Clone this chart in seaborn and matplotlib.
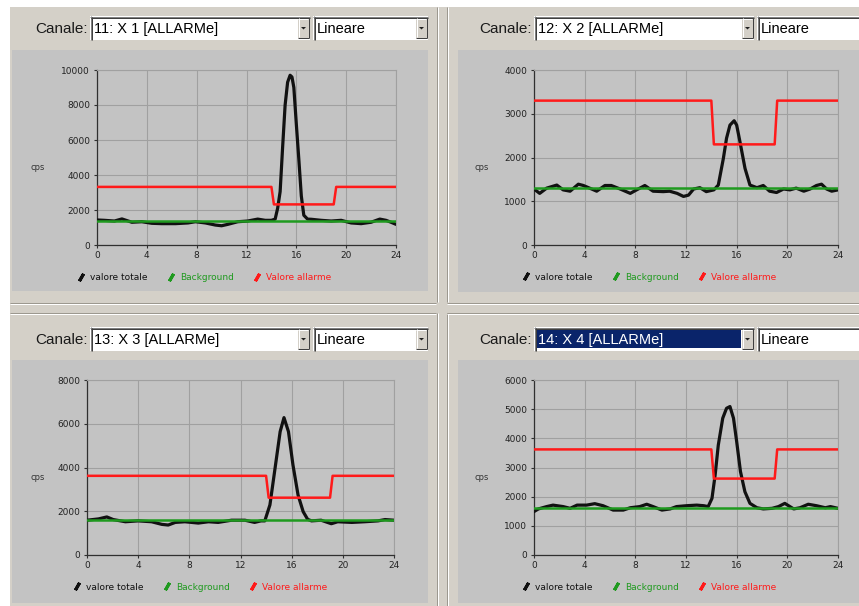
import matplotlib
matplotlib.use("Agg")
import matplotlib.pyplot as plt
from matplotlib.lines import Line2D
from matplotlib.patches import Rectangle, Polygon
import seaborn as sns

sns.set_theme(style="white")
plt.rcParams["font.family"] = ["DejaVu Sans"]

W, H = 859, 606

# ---- shared labels ----
hour_ticks = [0, 4, 8, 12, 16, 20, 24]
series_labels = ["valore totale", "Background", "Valore allarme"]
scale_mode = "Lineare"
channel_prompt = "Canale:"
unit_label = "cps"

# alarm threshold change points (hours)
alarm_hours = [0, 14.0, 14.2, 19.0, 19.2, 24]

# ---- channel 11 ----
ch11_name = "11: X 1 [ALLARMe]"
ch11_hours = [0, 0.6, 1.4, 2.0, 2.8, 3.6, 4.4, 5.2, 6.3, 7.3,
              7.9, 8.7, 9.5, 10.0, 10.5, 11.3, 12.1, 12.9, 13.5, 14.0,
              14.3, 14.5, 14.7, 14.9, 15.1, 15.3, 15.5, 15.65, 15.8, 16.0,
              16.2, 16.4, 16.6, 16.9, 17.2, 18.0, 18.8, 19.6, 20.4, 21.2,
              22.0, 22.7, 23.2, 23.6, 24.0]
ch11_total = [1430, 1410, 1370, 1490, 1300, 1330, 1240, 1220, 1220, 1260,
              1330, 1260, 1140, 1100, 1180, 1330, 1370, 1480, 1410, 1410,
              1480, 2100, 3050, 5600, 8000, 9300, 9700, 9600, 9000, 6900,
              4900, 2800, 1700, 1480, 1470, 1410, 1370, 1410, 1260, 1220,
              1300, 1480, 1410, 1300, 1180]
ch11_background = [1350, 1350]
ch11_alarm = [3320, 3320, 2320, 2320, 3320, 3320]
ch11_ymax, ch11_ystep = 10000, 2000

# ---- channel 12 ----
ch12_name = "12: X 2 [ALLARMe]"
ch12_hours = [0, 0.45, 1.0, 1.8, 2.3, 2.85, 3.5, 3.9, 4.55, 4.95,
              5.6, 6.1, 6.8, 7.6, 8.1, 8.75, 9.4, 10.2, 10.7, 11.3,
              11.8, 12.2, 12.6, 13.1, 13.6, 14.2, 14.55, 14.95, 15.2, 15.47,
              15.8, 16.0, 16.26, 16.66, 17.05, 17.6, 18.1, 18.6, 19.15, 19.7,
              20.2, 20.7, 21.3, 21.8, 22.3, 22.7, 23.1, 23.5, 24.0]
ch12_total = [1280, 1180, 1300, 1370, 1260, 1230, 1390, 1360, 1280, 1230,
              1360, 1360, 1280, 1180, 1260, 1360, 1230, 1220, 1230, 1180,
              1110, 1140, 1280, 1310, 1220, 1260, 1370, 1980, 2440, 2740,
              2840, 2740, 2360, 1750, 1370, 1310, 1360, 1230, 1200, 1280,
              1260, 1300, 1230, 1280, 1360, 1390, 1280, 1230, 1260]
ch12_background = [1300, 1300]
ch12_alarm = [3300, 3300, 2300, 2300, 3300, 3300]
ch12_ymax, ch12_ystep = 4000, 1000

# ---- channel 13 ----
ch13_name = "13: X 3 [ALLARMe]"
ch13_hours = [0, 0.9, 1.55, 2.05, 3.0, 4.0, 5.05, 5.85, 6.35, 6.9,
              7.65, 8.7, 9.5, 10.25, 11.3, 12.35, 13.1, 13.6, 13.9, 14.3,
              14.7, 15.1, 15.4, 15.75, 16.1, 16.5, 16.9, 17.25, 17.55, 18.3,
              19.1, 19.6, 20.7, 21.7, 22.75, 23.3, 24.0]
ch13_total = [1590, 1650, 1740, 1620, 1520, 1560, 1520, 1400, 1370, 1490,
              1520, 1460, 1520, 1490, 1590, 1590, 1490, 1560, 1560, 2290,
              3960, 5640, 6280, 5640, 4120, 2740, 1980, 1630, 1560, 1590,
              1430, 1520, 1490, 1520, 1560, 1620, 1590]
ch13_background = [1620, 1620]
ch13_alarm = [3620, 3620, 2620, 2620, 3620, 3620]
ch13_ymax, ch13_ystep = 8000, 2000

# ---- channel 14 ----
ch14_name = "14: X 4 [ALLARMe]"
ch14_hours = [0, 0.35, 1.0, 1.5, 2.3, 2.85, 3.4, 4.15, 4.8, 5.45,
              6.25, 7.05, 7.6, 8.35, 8.9, 9.4, 10.1, 10.75, 11.25, 12.05,
              12.85, 13.4, 13.75, 14.05, 14.3, 14.55, 14.9, 15.2, 15.47, 15.75,
              16.0, 16.3, 16.65, 17.05, 17.6, 18.1, 18.8, 19.3, 19.8, 20.5,
              21.0, 21.65, 22.3, 23.0, 23.4, 24.0]
ch14_total = [1490, 1580, 1660, 1710, 1660, 1600, 1710, 1710, 1760, 1690,
              1540, 1540, 1620, 1660, 1740, 1660, 1540, 1580, 1660, 1690,
              1710, 1690, 1660, 1940, 2740, 3770, 4690, 5030, 5090, 4690,
              3890, 2860, 2170, 1770, 1620, 1580, 1600, 1660, 1770, 1580,
              1620, 1740, 1690, 1620, 1660, 1600]
ch14_background = [1620, 1620]
ch14_alarm = [3620, 3620, 2620, 2620, 3620, 3620]
ch14_ymax, ch14_ystep = 6000, 1000

# ---- colours ----
BEIGE = "#d4d0c8"
PANEL = "#c3c3c3"
GRID = "#a0a0a0"
DARK = "#303030"
C_TOTAL = "#111111"
C_BG = "#1f9a1f"
C_ALARM = "#ff1a1a"
NAVY = "#0a246a"
UI_FONT = ["Liberation Sans", "DejaVu Sans"]

fig = plt.figure(figsize=(W / 100, H / 100), dpi=100, facecolor="white")

# pixel-space canvas for the window chrome
bg = fig.add_axes([0, 0, 1, 1])
bg.set_xlim(0, W)
bg.set_ylim(H, 0)
bg.axis("off")
bg.add_patch(Rectangle((10, 7), W - 10, H - 7, fc=BEIGE, ec="none"))


def px(lw_px):
    return lw_px * 0.72


def hline(x0, x1, y, color):
    bg.plot([x0, x1], [y, y], color=color, lw=px(1), solid_capstyle="butt")


def vline(x, y0, y1, color):
    bg.plot([x, x], [y0, y1], color=color, lw=px(1), solid_capstyle="butt")


# etched separators between the four group boxes
for y0, y1 in [(7, 302), (313, 606)]:
    vline(436.5, y0, y1, "#9c988f")
    vline(437.5, y0, y1, "white")
    vline(446.5, y0, y1, "#9c988f")
    vline(447.5, y0, y1, "white")
for x0, x1 in [(10, 436), (447, 859)]:
    hline(x0, x1, 302.5, "#9c988f")
    hline(x0, x1, 303.5, "white")
    hline(x0, x1, 312.5, "#9c988f")
    hline(x0, x1, 313.5, "white")


def combo(x0, y0, x1, y1, text, selected=False, button=True):
    bg.add_patch(Rectangle((x0, y0), x1 - x0, y1 - y0, fc="white", ec="none"))
    hline(x0, x1, y0 + 0.5, "#808080")
    vline(x0 + 0.5, y0, y1, "#808080")
    hline(x0 + 1, x1, y0 + 1.5, "#404040")
    vline(x0 + 1.5, y0 + 1, y1, "#404040")
    bx0 = x1 - 12
    if button:
        bg.add_patch(Rectangle((bx0, y0 + 2), 11, y1 - y0 - 4, fc=BEIGE, ec="none"))
        hline(bx0, x1 - 1, y1 - 2.5, "#404040")
        vline(x1 - 1.5, y0 + 2, y1 - 2, "#404040")
        hline(bx0, x1 - 2, y0 + 2.5, "white")
        vline(bx0 + 0.5, y0 + 2, y1 - 3, "white")
        cx, cy = bx0 + 5.5, (y0 + y1) / 2
        bg.add_patch(Polygon([(cx - 2.5, cy - 1), (cx + 2.5, cy - 1), (cx, cy + 1.5)],
                             closed=True, fc="#202020", ec="none"))
    tcolor = "black"
    if selected:
        bg.add_patch(Rectangle((x0 + 3, y0 + 3), bx0 - 1 - (x0 + 3), y1 - y0 - 6,
                               fc=NAVY, ec="none"))
        tcolor = "white"
    bg.text(x0 + 3.5, y1 - 7, text, fontsize=10.5, family=UI_FONT, color=tcolor,
            va="baseline", ha="left")


panels = [
    dict(name=ch11_name, hours=ch11_hours, total=ch11_total, bgv=ch11_background,
         alarm=ch11_alarm, ymax=ch11_ymax, ystep=ch11_ystep,
         dx=0, dy=0, gray=(12, 50, 428, 291), ax=(97, 70, 396, 245),
         leg=(77, 278), selected=False),
    dict(name=ch12_name, hours=ch12_hours, total=ch12_total, bgv=ch12_background,
         alarm=ch12_alarm, ymax=ch12_ymax, ystep=ch12_ystep,
         dx=444, dy=0, gray=(458, 50, 859, 292), ax=(534, 70, 838, 245),
         leg=(522, 277), selected=False),
    dict(name=ch13_name, hours=ch13_hours, total=ch13_total, bgv=ch13_background,
         alarm=ch13_alarm, ymax=ch13_ymax, ystep=ch13_ystep,
         dx=0, dy=311, gray=(12, 360, 428, 603), ax=(87, 380, 394, 555),
         leg=(73, 587), selected=False),
    dict(name=ch14_name, hours=ch14_hours, total=ch14_total, bgv=ch14_background,
         alarm=ch14_alarm, ymax=ch14_ymax, ystep=ch14_ystep,
         dx=444, dy=311, gray=(458, 360, 859, 603), ax=(534, 380, 838, 555),
         leg=(522, 587), selected=True),
]

handles = [Line2D([], [], ls="none", marker=(2, 2, -30), ms=6, mew=2.2, color=c)
           for c in (C_TOTAL, C_BG, C_ALARM)]

for p in panels:
    dx, dy = p["dx"], p["dy"]
    # header row
    bg.text(88 + dx, 33 + dy, channel_prompt, fontsize=11, family=UI_FONT,
            color="#1a1a1a", ha="right", va="baseline")
    combo(90 + dx, 16 + dy, 310 + dx, 40 + dy, p["name"], selected=p["selected"])
    combo(313 + dx, 16 + dy, 428 + dx, 40 + dy, scale_mode, button=(dx == 0))

    gx0, gy0, gx1, gy1 = p["gray"]
    bg.add_patch(Rectangle((gx0, gy0), gx1 - gx0, gy1 - gy0, fc=PANEL, ec="none"))

    x0, y0, x1, y1 = p["ax"]
    ax = fig.add_axes([x0 / W, 1 - y1 / H, (x1 - x0) / W, (y1 - y0) / H])
    ax.set_facecolor(PANEL)

    sns.lineplot(x=p["hours"], y=p["total"], ax=ax, color=C_TOTAL, lw=2.3,
                 estimator=None, sort=False, legend=False, zorder=3)
    sns.lineplot(x=[0, 24], y=p["bgv"], ax=ax, color=C_BG, lw=1.8,
                 estimator=None, sort=False, legend=False, zorder=4)
    sns.lineplot(x=alarm_hours, y=p["alarm"], ax=ax, color=C_ALARM, lw=1.8,
                 estimator=None, sort=False, legend=False, zorder=5)

    ax.set_xlim(0, 24)
    ax.set_ylim(0, p["ymax"])
    ax.set_xticks(hour_ticks)
    ax.set_yticks(list(range(0, p["ymax"] + 1, p["ystep"])))
    ax.grid(True, color=GRID, lw=0.8)
    ax.set_axisbelow(True)
    for side in ("top", "right"):
        ax.spines[side].set_color(GRID)
        ax.spines[side].set_linewidth(0.8)
    for side in ("left", "bottom"):
        ax.spines[side].set_color(DARK)
        ax.spines[side].set_linewidth(0.9)
    ax.tick_params(axis="both", left=True, bottom=True, direction="out",
                   length=2.5, width=0.8, color=DARK, labelsize=6.5,
                   labelcolor="#222222")
    ax.tick_params(axis="y", pad=2.5)
    ax.tick_params(axis="x", pad=1.5)
    ax.set_xlabel("")
    ax.set_ylabel(unit_label, rotation=0, fontsize=6, color="#333333",
                  ha="center", va="center")
    cx = 38 if dx == 0 else 482
    cy = 167 + dy
    ax.yaxis.set_label_coords((cx - x0) / (x1 - x0), (y1 - cy) / (y1 - y0))

    lx, ly = p["leg"]
    leg = ax.legend(handles, series_labels, loc="center left",
                    bbox_to_anchor=(lx / W, 1 - ly / H),
                    bbox_transform=fig.transFigure, ncol=3, frameon=False,
                    fontsize=6.5, handlelength=0.8, handletextpad=0.6,
                    columnspacing=2.2, borderpad=0, borderaxespad=0)
    for t, c in zip(leg.get_texts(), (C_TOTAL, C_BG, C_ALARM)):
        t.set_color(c)

fig.savefig("out.png", dpi=100, facecolor=fig.get_facecolor())
